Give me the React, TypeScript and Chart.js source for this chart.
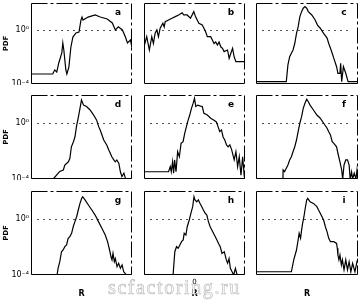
import React, { useEffect, useRef } from "react";
import { Chart, registerables } from "chart.js";

Chart.register(...registerables);

// ---- data (R in arbitrary units, PDF on log scale) ----
const aR = [-50, -28.5, -26.5, -24.5, -22.5, -19.5, -18.5, -17.5, -15.5, -14.5, -12.5, -10.5, -8.5, -5.5, -2.5, -0.5, 0.5, 1.5, 6.5, 13.5, 18.5, 25.5, 30.5, 33.5, 36.5, 40.5, 43.5, 45.5, 48.5, 50];
const aPDF = [5.5e-4, 5.5e-4, 1.1e-3, 7.7e-4, 3.6e-3, 0.02, 0.11, 0.033, 1.1e-3, 5.5e-4, 1.8e-3, 0.055, 0.3, 0.6, 0.71, 5.5, 9.1, 5.5, 9.1, 13, 9.1, 6.5, 3.3, 1.0, 1.7, 1.0, 0.3, 0.11, 0.18, 0.047];

const bR = [-50, -47.3, -44.7, -42.3, -40.7, -39, -37.3, -35.7, -34, -31.3, -30, -29, -25.7, -22.3, -19, -15.7, -12.3, -10.7, -7.3, -4, -0.7, 1, 4.3, 7.7, 11, 12.7, 16, 17.7, 19.3, 21, 22.7, 24.3, 26, 27.7, 29.3, 32.7, 34.3, 36, 37.7, 39.3, 41, 46, 50];
const bPDF = [0.057, 0.32, 0.033, 0.32, 0.1, 0.57, 1.0, 0.32, 1.35, 3.2, 1.7, 4.1, 5.5, 7.4, 9.8, 13, 19, 13, 13, 7.4, 23, 9.8, 3.2, 2.4, 0.74, 0.32, 0.32, 0.18, 0.1, 0.13, 0.077, 0.13, 0.057, 0.044, 0.025, 0.033, 0.008, 0.019, 0.044, 0.01, 0.0045, 0.0045, 0.0045];

const cR = [-50, -27, -20.3, -18.7, -17, -15.3, -13.7, -12, -10.3, -8.7, -7, -5.3, -3.7, -2, -0.3, 1.3, 4.7, 8, 10.3, 13, 16.3, 19.7, 21.3, 23, 24.7, 26.3, 29, 30.3, 32.3, 33, 34, 35.7, 38, 40.3, 50];
const cPDF = [1.5e-4, 1.5e-4, 1.5e-4, 2.6e-3, 0.0105, 0.019, 0.033, 0.1, 0.57, 1.7, 9.8, 23, 41, 54, 41, 23, 13, 5.5, 2.3, 1.35, 0.57, 0.25, 0.1, 0.044, 0.019, 0.0079, 0.0019, 6.2e-4, 6.2e-4, 0.0034, 1.5e-4, 0.0019, 6.2e-4, 1.5e-4, 1.5e-4];

const dR = [-50, -28, -23, -21.5, -18, -16.5, -13, -11.5, -10, -8, -6.5, -5, -3, -1.5, 0, 2, 5, 8.5, 12, 15, 17, 18.5, 22, 25, 27, 28.5, 30, 32, 33.5, 35, 37, 38.5, 40, 42, 43.5, 45, 50];
const dPDF = [1e-4, 1e-4, 2.6e-4, 3.5e-4, 4.4e-4, 1.0e-3, 1.7e-3, 3.0e-3, 0.02, 0.046, 0.1, 0.55, 2.8, 11, 44, 19, 15, 8.5, 3.7, 1.6, 0.55, 0.32, 0.061, 0.027, 0.012, 0.0069, 0.0039, 0.0023, 0.0017, 0.0023, 0.0013, 3.3e-4, 1.5e-4, 2.6e-4, 1.1e-4, 1e-4, 1e-4];

const eR = [-50, -25.7, -24, -23, -21.7, -20.7, -19.7, -18.3, -16.7, -15, -13.3, -11.3, -9.7, -8, -6.3, -4.7, -3, -1.3, 0, 1.3, 3.3, 6, 7.7, 9.3, 12.7, 16, 19.3, 21.7, 23.3, 25, 26.7, 28.3, 30, 31.7, 33.3, 35, 36.7, 39.3, 41, 42.7, 44.3, 46, 47.7, 49.3, 50];
const ePDF = [3.3e-4, 3.3e-4, 7.6e-4, 3.3e-4, 1.7e-3, 2.6e-4, 2.3e-3, 3.3e-4, 8.9e-3, 3.9e-3, 0.035, 0.046, 0.18, 0.55, 1.6, 3.7, 11, 26, 58, 15, 19, 16, 15, 4.9, 3.7, 2.2, 1.6, 1.2, 0.55, 0.24, 0.32, 0.1, 0.061, 0.027, 0.02, 0.027, 0.013, 0.0023, 0.0089, 7.6e-4, 0.0039, 1.9e-4, 0.0039, 1.5e-4, 1e-4];

const fR = [-50, -23.6, -23.4, -22, -18.7, -17, -15.3, -13.7, -12, -10.3, -8.7, -7, -5.3, -3.7, -2, -0.3, 1.3, 3, 6.3, 9.7, 13, 16.3, 19.7, 21.3, 23, 24.7, 26.3, 29, 30.3, 32.3, 34, 35, 36.3, 38, 39.7, 41.3, 42.3, 43.7, 44.7, 46.3, 48, 49, 50];
const fPDF = [1e-4, 1e-4, 4.4e-4, 3.3e-4, 1.0e-3, 2.3e-3, 3.9e-3, 8.9e-3, 0.02, 0.061, 0.24, 0.96, 2.8, 11, 26, 49, 33, 19, 8.5, 3.7, 2.2, 0.96, 0.42, 0.24, 0.14, 0.046, 0.035, 0.02, 0.0069, 0.0017, 4.4e-4, 1e-4, 1.0e-3, 2.3e-3, 2.3e-3, 1.0e-3, 1e-4, 3.3e-4, 1e-4, 2.6e-4, 1e-4, 4.4e-4, 1e-4];

const gR = [-50, -24.2, -23.2, -21.5, -19.8, -18.2, -16.5, -14.8, -13.2, -11.5, -9.8, -8.2, -6.5, -4.8, -3.2, -1.5, 0.2, 1.2, 3.5, 6.8, 10.2, 13.5, 16.8, 20.2, 23.5, 25.8, 27.8, 29.2, 30.2, 31.2, 32.5, 33.5, 35.2, 36.8, 38.5, 40.2, 41.8, 44.5, 50];
const gPDF = [1e-4, 1e-4, 3.0e-4, 8.9e-4, 4.6e-3, 6.1e-3, 0.0105, 0.014, 0.042, 0.055, 0.095, 0.28, 0.65, 1.45, 4.4, 13, 30, 39, 23, 10, 4.4, 1.9, 0.65, 0.22, 0.072, 0.024, 0.0061, 0.002, 0.0012, 0.0035, 8.9e-4, 0.0015, 3.9e-4, 6.9e-4, 3.0e-4, 5.2e-4, 1.7e-4, 1e-4, 1e-4];

const hR = [-50, -21.2, -19.5, -17.8, -16.2, -14.5, -12.8, -11.2, -10.2, -8.5, -7.2, -5.2, -3.5, -1.8, -0.5, 0.5, 2.2, 3.8, 5.5, 7.2, 8.8, 10.5, 12.2, 13.8, 15.5, 18.8, 22.2, 23.8, 25.5, 27.2, 29.5, 31.5, 32.8, 34.2, 35.5, 37.2, 38.8, 40.5, 42.2, 50];
const hPDF = [1e-4, 1e-4, 0.0046, 0.0105, 0.0081, 0.014, 0.024, 0.032, 0.095, 0.072, 0.28, 0.85, 2.6, 7.6, 39, 23, 17, 23, 13, 7.6, 4.4, 2.6, 1.9, 0.65, 0.28, 0.095, 0.032, 0.018, 0.0105, 0.0035, 0.0046, 0.0012, 6.9e-4, 0.0015, 3.0e-4, 1.7e-4, 1e-4, 3.0e-4, 1e-4, 1e-4];

const iR = [-50, -15.3, -13, -10.3, -8.7, -7.7, -6.3, -5.3, -4.3, -3, -2, -0.3, 0.7, 3, 6.3, 9.7, 11.3, 13, 14.7, 16.3, 18, 19.7, 21.3, 23, 26.3, 29, 29.7, 30.3, 31.3, 32.3, 33.7, 34.7, 36.3, 38, 39.7, 41.3, 43, 44.7, 47, 49, 50];
const iPDF = [1.7e-4, 1.7e-4, 0.0012, 0.0061, 0.032, 0.095, 0.042, 0.16, 0.49, 1.45, 4.4, 23, 30, 17, 13, 7.6, 4.4, 2.6, 1.45, 0.85, 0.28, 0.12, 0.042, 0.024, 0.024, 0.018, 0.0081, 0.0027, 0.0012, 0.0027, 5.2e-4, 0.0012, 2.3e-4, 0.0012, 2.3e-4, 8.9e-4, 1.7e-4, 6.9e-4, 1.7e-4, 8.9e-4, 0.0015];

const panelLetters = ["a", "b", "c", "d", "e", "f", "g", "h", "i"];
const panelR = [aR, bR, cR, dR, eR, fR, gR, hR, iR];
const panelPDF = [aPDF, bPDF, cPDF, dPDF, ePDF, fPDF, gPDF, hPDF, iPDF];

const yTickValues = [1e-4, 1];
const xTickValues = [0];

// ---- layout ----
const COLS = [
  { left: 31, width: 101 },
  { left: 144, width: 101 },
  { left: 256, width: 102 },
];
const ROWS = [
  { top: 3, height: 81 },
  { top: 95, height: 84 },
  { top: 191, height: 84 },
];
const Y_AXIS_W = 31;
const X_AXIS_H = 24;
const FONT = "'DejaVu Sans'";

const framePlugin = {
  id: "frame",
  beforeDatasetsDraw(chart: any) {
    const { ctx, chartArea: a, scales } = chart;
    const y1 = Math.round(scales.y.getPixelForValue(1)) + 0.5;
    ctx.save();
    ctx.strokeStyle = "#555";
    ctx.lineWidth = 1;
    ctx.setLineDash([2, 4]);
    ctx.beginPath();
    ctx.moveTo(a.left + 6, y1);
    ctx.lineTo(a.right - 6, y1);
    ctx.stroke();
    ctx.restore();
  },
  afterDraw(chart: any, _args: any, opts: any) {
    const { ctx, chartArea: a } = chart;
    const l = Math.round(a.left) + 0.5;
    const t = Math.round(a.top) + 0.5;
    const r = Math.round(a.right) - 0.5;
    const b = Math.round(a.bottom) - 0.5;
    ctx.save();
    ctx.strokeStyle = "#000";
    ctx.lineWidth = 1;
    ctx.beginPath();
    ctx.moveTo(l, t);
    ctx.lineTo(l, b);
    ctx.lineTo(r, b);
    ctx.stroke();
    ctx.setLineDash([16, 3, 3, 3]);
    ctx.beginPath();
    ctx.moveTo(l, t);
    ctx.lineTo(r, t);
    ctx.lineTo(r, b);
    ctx.stroke();
    ctx.setLineDash([]);
    ctx.fillStyle = "#000";
    ctx.font = `bold 9px ${FONT}`;
    ctx.textAlign = "center";
    ctx.textBaseline = "middle";
    ctx.fillText(opts.letter, a.right - 14, a.top + 10);
    ctx.restore();
  },
};

function Panel({ idx }: { idx: number }) {
  const ref = useRef<HTMLCanvasElement | null>(null);
  const row = Math.floor(idx / 3);
  const col = idx % 3;
  const c = COLS[col];
  const rw = ROWS[row];
  const x0 = col === 0 ? 0 : c.left;
  const w = c.left + c.width - x0 + 1;
  const h = rw.height + 1 + (row === 2 ? X_AXIS_H : 1);

  useEffect(() => {
    const rs = panelR[idx];
    const ps = panelPDF[idx];
    const chart = new Chart(ref.current as HTMLCanvasElement, {
      type: "line",
      data: {
        datasets: [
          {
            data: rs.map((x, i) => ({ x, y: ps[i] })),
            borderColor: "#000",
            borderWidth: 1.2,
            pointRadius: 0,
            tension: 0,
            fill: false,
          },
        ],
      },
      options: {
        animation: false,
        responsive: false,
        devicePixelRatio: 1,
        layout: { padding: { top: 1, right: 1, bottom: row === 2 ? 0 : 1, left: 0 } },
        plugins: {
          legend: { display: false },
          tooltip: { enabled: false },
          // @ts-ignore
          frame: { letter: panelLetters[idx] },
        },
        scales: {
          x: {
            type: "linear",
            min: -50,
            max: 50,
            display: row === 2,
            grid: { display: false, drawTicks: false },
            border: { display: false },
            afterBuildTicks: (s: any) => {
              s.ticks = xTickValues.map((v) => ({ value: v }));
            },
            ticks: {
              display: col === 1,
              font: { size: 7, family: FONT },
              color: "#000",
              padding: 3,
              maxRotation: 0,
              autoSkip: false,
            },
            title: {
              display: true,
              text: "R",
              font: { size: 8, weight: "bold", family: FONT },
              color: "#000",
              padding: { top: 0, bottom: 0 },
            },
            afterFit: (s: any) => {
              if (row === 2) s.height = X_AXIS_H;
              s.paddingLeft = 0;
              s.paddingRight = 0;
            },
          },
          y: {
            type: "logarithmic",
            min: 1e-4,
            max: 100,
            display: col === 0,
            grid: { display: false, drawTicks: false },
            border: { display: false },
            afterBuildTicks: (s: any) => {
              s.ticks = yTickValues.map((v) => ({ value: v }));
            },
            ticks: {
              font: { size: 8, family: FONT },
              color: "#000",
              padding: 2,
              autoSkip: false,
              callback: (v: any) => (Number(v) === 1 ? "10⁰" : "10⁻⁴"),
            },
            title: {
              display: true,
              text: "PDF",
              font: { size: 7, weight: "bold", family: FONT },
              color: "#000",
              padding: { top: 2, bottom: 0 },
            },
            afterFit: (s: any) => {
              if (col === 0) s.width = Y_AXIS_W;
              s.paddingTop = 0;
              s.paddingBottom = 0;
            },
          },
        },
      } as any,
      plugins: [framePlugin as any],
    });
    return () => chart.destroy();
  }, []);

  return (
    <canvas
      ref={ref}
      width={w}
      height={h}
      style={{ position: "absolute", left: x0, top: rw.top - 1, width: w, height: h }}
    />
  );
}

export default function App() {
  return (
    <div
      style={{
        position: "absolute",
        left: 0,
        top: 0,
        width: 360,
        height: 301,
        background: "#fff",
        overflow: "hidden",
      }}
    >
      {panelLetters.map((_, i) => (
        <Panel key={i} idx={i} />
      ))}
      <div
        style={{
          position: "absolute",
          left: 108,
          top: 277,
          font: "20px 'Liberation Serif'",
          lineHeight: "20px",
          letterSpacing: "1.6px",
          color: "#fff",
          WebkitTextStroke: "0.7px #c0c0c0",
          whiteSpace: "nowrap",
          pointerEvents: "none",
        }}
      >
        scfactoring.ru
      </div>
    </div>
  );
}
